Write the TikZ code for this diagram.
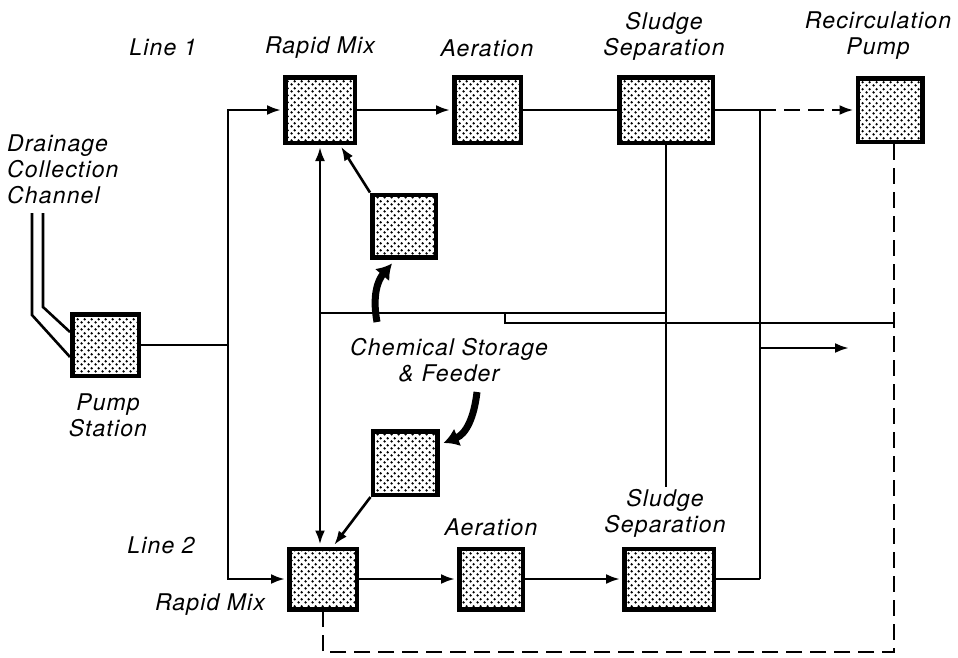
\documentclass[tikz,border=0pt]{standalone}
\usepackage{fontspec}
\setmainfont{TeX Gyre Heros}[LetterSpace=5]
\usetikzlibrary{arrows.meta,patterns}
\pgfdeclarepatternformonly{mydots}{\pgfqpoint{0pt}{0pt}}{\pgfqpoint{6.6pt}{6.6pt}}{\pgfqpoint{6.6pt}{6.6pt}}{%
  \pgfpathcircle{\pgfqpoint{1.65pt}{1.65pt}}{1.35pt}%
  \pgfpathcircle{\pgfqpoint{4.95pt}{4.95pt}}{1.35pt}%
  \pgfusepath{fill}}
\begin{document}
\begin{tikzpicture}[x=1pt,y=-1pt,
  box/.style={draw,line width=4.5pt,pattern=mydots,inner sep=0pt},
  lbl/.style={font=\fontsize{23}{26}\selectfont\itshape,align=center,inner sep=0pt},
  conn/.style={line width=2.6pt},
  tipA/.tip={Latex[length=14pt,width=10pt]},
  arr/.style={conn,-tipA,shorten >=2pt},
  arrboth/.style={conn,tipA-tipA,shorten >=2pt,shorten <=2pt},
  dsh/.style={conn,dash pattern=on 16pt off 8pt},
  bigarr/.style={line width=7pt,-{Latex[length=15pt,width=19pt]}}]
\useasboundingbox (0,0) rectangle (958,657);

% boxes
\node[box,minimum width=66.5pt,minimum height=61.5pt] (pump) at (105.5,345) {};
\node[box,minimum width=69.5pt,minimum height=65.5pt] (rm1) at (320,110) {};
\node[box,minimum width=66.5pt,minimum height=65.5pt] (ae1) at (487.5,110) {};
\node[box,minimum width=93.5pt,minimum height=65.5pt] (ss1) at (666,110) {};
\node[box,minimum width=64.5pt,minimum height=63.5pt] (rp) at (890,110) {};
\node[box,minimum width=63.5pt,minimum height=62.5pt] (ch1) at (404,226) {};
\node[box,minimum width=64.5pt,minimum height=63.5pt] (ch2) at (405,463) {};
\node[box,minimum width=67.5pt,minimum height=60.5pt] (rm2) at (323,579) {};
\node[box,minimum width=63.5pt,minimum height=60.5pt] (ae2) at (491,579) {};
\node[box,minimum width=89.5pt,minimum height=60.5pt] (ss2) at (669,579) {};

% labels
\node[lbl] (tl1) at (163,47) {Line 1};
\node[lbl] (trm1) at (320,48) {Rapid Mix};
\node[lbl] (tae1) at (487,48) {Aeration};
\node[lbl] (tss1) at (664,36) {Sludge\\Separation};
\node[lbl] (trp) at (878,36) {Recirculation\\Pump};
\node[lbl,anchor=west,align=left] (tdr) at (7,169) {Drainage\\Collection\\Channel};
\node[lbl] (tps) at (108,415) {Pump\\Station};
\node[lbl] (tch) at (449,360) {Chemical Storage\\\& Feeder};
\node[lbl] (tl2) at (161,545) {Line 2};
\node[lbl] (trm2) at (210,605) {Rapid Mix};
\node[lbl] (tae2) at (491,527) {Aeration};
\node[lbl] (tss2) at (665,513) {Sludge\\Separation};

% coordinates
\coordinate (jp) at (228,345);
\coordinate (jt) at (760,110);
\coordinate (jb) at (760,579);
\coordinate (jo) at (760,348);
\coordinate (out) at (851,348);
\coordinate (hA) at (320,313);
\coordinate (hB) at (666,313);
\coordinate (ssEnd) at (666,487);
\coordinate (hC) at (505,313);
\coordinate (hD) at (505,323);
\coordinate (hE) at (894,323);
\coordinate (dB) at (894,652);
\coordinate (dC) at (323,652);
\coordinate (cla) at (32,213);
\coordinate (clb) at (32,315);
\coordinate (cra) at (43,213);
\coordinate (crb) at (43,307);
\coordinate (b1s) at (377,322);
\coordinate (b2s) at (477,392);

% drainage channel
\draw[conn] (cla) -- (clb) -- ([yshift=-12pt]pump.west);
\draw[conn] (cra) -- (crb) -- ([yshift=13pt]pump.west);

% connectors
\draw[conn] (pump.east) -- (jp);
\draw[arr] (jp) |- (rm1.west);
\draw[arr] (jp) |- (rm2.west);
\draw[arr] (rm1) -- (ae1);
\draw[conn] (ae1) -- (ss1);
\draw[conn] (ss1.east) -- (jt);
\draw[dsh,-tipA,shorten >=2pt] (jt) -- (rp.west);
\draw[conn] (jt) -- (jb);
\draw[conn] (ss2.east) -- (jb);
\draw[arr] (jo) -- (out);
\draw[conn] (ss1.south) -- (ssEnd);
\draw[conn] (hA) -- (hB);
\draw[conn] (hC) -- (hD) -- (hE);
\draw[dsh] ([xshift=4pt]rp.south) -- (dB) -- (dC) -- (rm2.south);
\draw[arrboth] (rm1.south) -- (rm1.south |- rm2.north);
\draw[arr] (ch1.north west) -- ([xshift=20pt]rm1.south);
\draw[arr] (ch2.south west) -- ([xshift=10pt]rm2.north);
\draw[arr] (rm2) -- (ae2);
\draw[arr] (ae2) -- (ss2);

% thick curved arrows
\draw[bigarr] (b1s) .. controls (372,295) and (378,280) .. ([xshift=-12pt,yshift=-4pt]ch1.south);
\draw[bigarr] (b2s) .. controls (474,418) and (466,434) .. ([xshift=4pt,yshift=20pt]ch2.east);
\end{tikzpicture}
\end{document}
